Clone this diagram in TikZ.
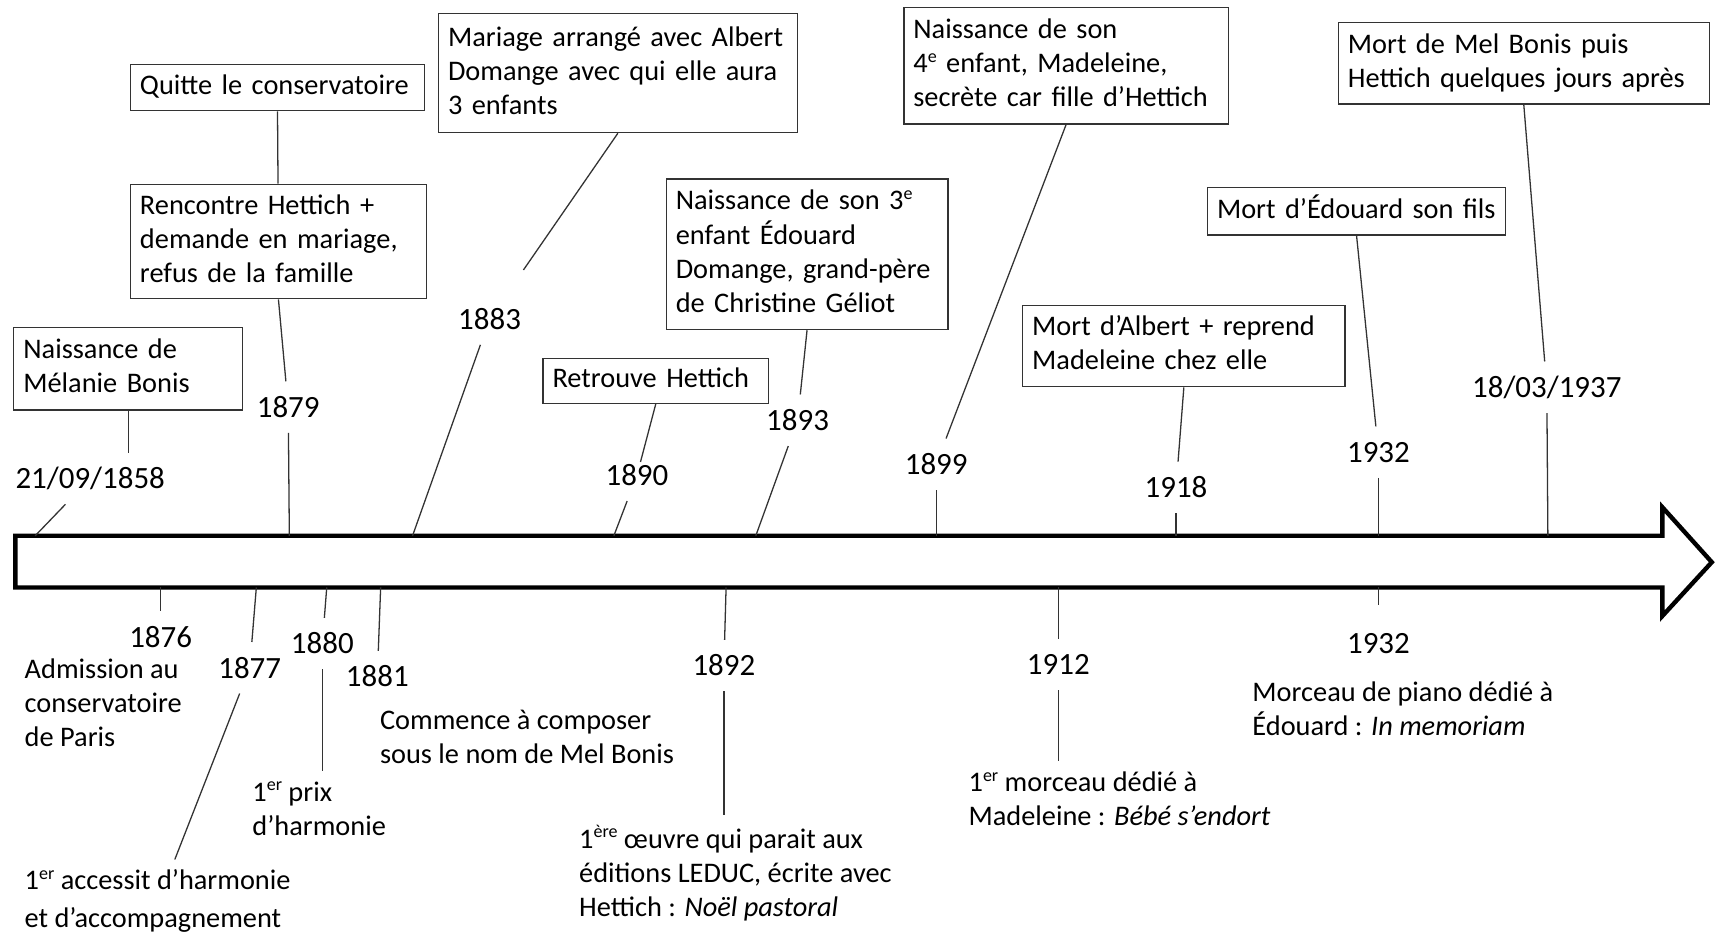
\documentclass[tikz,border=0pt]{standalone}
\usepackage{fontspec}
\setmainfont{Carlito}

\newcommand{\boxfont}{\fontsize{11}{13.2}\selectfont}
\newcommand{\yearfont}{\fontsize{12}{14}\selectfont}
\newcommand{\expo}[1]{\raisebox{0.75ex}{\fontsize{7}{7}\selectfont #1}}

\begin{document}
\begin{tikzpicture}[x=0.15mm, y=-0.15mm,
    eventbox/.style 2 args={draw=black!80, line width=0.5pt, anchor=north west, align=left, inner xsep=1.3mm, inner ysep=0pt, text width=#1, minimum height=#2, font=\boxfont, execute at begin node=\strut, execute at end node=\strut},
    yearnode/.style={font=\yearfont, inner sep=0pt, text height=8pt, text depth=0pt, outer sep=6pt},
    notetext/.style={anchor=north west, align=left, inner sep=0pt, font=\boxfont, execute at begin node=\strut, execute at end node=\strut},
    link/.style={draw=black!80, line width=0.5pt},
    timeline/.style={draw=black, line width=1.7pt, fill=white, line join=miter},]
    \useasboundingbox (0,0) rectangle (1568,850);
    % arrow
    \draw[timeline] (14,487) -- (1511,487) -- (1511,461) -- (1556,511) -- (1511,560) -- (1511,534) -- (14,534) -- cycle;
    % points on the arrow
    \coordinate (a1858) at (32,487);
    \coordinate (a1879) at (263,487);
    \coordinate (a1883) at (375,487);
    \coordinate (a1890) at (558,487);
    \coordinate (a1893) at (687,487);
    \coordinate (a1899) at (851,487);
    \coordinate (a1918) at (1069,487);
    \coordinate (a1932) at (1253,487);
    \coordinate (a1937) at (1407,487);
    \coordinate (b1876) at (146,534);
    \coordinate (b1877) at (233,534);
    \coordinate (b1880) at (297,534);
    \coordinate (b1881) at (346,534);
    \coordinate (b1892) at (660,534);
    \coordinate (b1912) at (962,534);
    \coordinate (b1932) at (1253,534);
    % boxes
    \node[eventbox={28.6mm}{11.25mm}]  (melanie)   at (12,297)   {Naissance de\\Mélanie Bonis};
    \node[eventbox={37.45mm}{6.3mm}]   (quitte)    at (118,58)   {Quitte le conservatoire};
    \node[eventbox={37.75mm}{15.6mm}]  (rencontre) at (118,167)  {Rencontre Hettich +\\demande en mariage,\\refus de la famille};
    \node[eventbox={46.3mm}{16.2mm}]   (mariage)   at (398,12)   {Mariage arrangé avec Albert\\Domange avec qui elle aura\\3 enfants};
    \node[eventbox={28.15mm}{6.15mm}]  (retrouve)  at (493,325)  {Retrouve Hettich};
    \node[eventbox={35.8mm}{20.55mm}]  (enfant3)   at (605,162)  {Naissance de son 3\expo{e}\\enfant Édouard\\Domange, grand-père\\de Christine Géliot};
    \node[eventbox={41.65mm}{15.9mm}]  (enfant4)   at (821,6)    {Naissance de son\\4\expo{e} enfant, Madeleine,\\secrète car fille d’Hettich};
    \node[eventbox={41.35mm}{11.1mm}]  (albert)    at (929,277)  {Mort d’Albert + reprend\\Madeleine chez elle};
    \node[eventbox={38.05mm}{6.45mm}]  (edouard)   at (1097,170) {Mort d’Édouard son fils};
    \node[eventbox={47.95mm}{11.1mm}]  (melbonis)  at (1216,20)  {Mort de Mel Bonis puis\\Hettich quelques jours après};
    % dates
    \node[yearnode] (d1858) at (82,435)   {21/09/1858};
    \node[yearnode] (d1879) at (262,370)  {1879};
    \node[yearnode] (d1883) at (445,290)  {1883};
    \node[yearnode] (d1890) at (579,432)  {1890};
    \node[yearnode] (d1893) at (725,382)  {1893};
    \node[yearnode] (d1899) at (851,422)  {1899};
    \node[yearnode] (d1918) at (1069,443) {1918};
    \node[yearnode] (d1932) at (1253,411) {1932};
    \node[yearnode] (d1937) at (1406,352) {18/03/1937};
    \node[yearnode] (e1876) at (146,579)  {1876};
    \node[yearnode] (e1877) at (227,607)  {1877};
    \node[yearnode] (e1880) at (293,585)  {1880};
    \node[yearnode] (e1881) at (343,615)  {1881};
    \node[yearnode] (e1892) at (658,605)  {1892};
    \node[yearnode] (e1912) at (962,604)  {1912};
    \node[yearnode] (e1932) at (1253,585) {1932};
    % texts below the arrow
    \node[notetext] (n1876) at (22,598)   {Admission au\\conservatoire\\de Paris};
    \node[notetext] (n1877) at (22,790)   {1\expo{er} accessit d’harmonie\\[1.4pt]et d’accompagnement};
    \node[notetext] (n1880) at (229,710)  {1\expo{er} prix\\d’harmonie};
    \node[notetext] (n1881) at (345,645)  {Commence à composer\\sous le nom de Mel Bonis};
    \node[notetext] (n1892) at (526,750)  {1\expo{ère} œuvre qui parait aux\\éditions LEDUC, écrite avec\\Hettich : \textit{Noël pastoral}};
    \node[notetext] (n1912) at (880,701)  {1\expo{er} morceau dédié à\\Madeleine : \textit{Bébé s’endort}};
    \node[notetext] (n1932) at (1138,619) {Morceau de piano dédié à\\Édouard : \textit{In memoriam}};
    % lines above the arrow
    \draw[link] (quitte) -- (rencontre);
    \draw[link] (melanie.south) -- (melanie.south |- d1858.north);
    \draw[link] (d1858) -- (a1858);
    \draw[link] (rencontre.south) -- (d1879);
    \draw[link] (d1879) -- (a1879);
    \draw[link, shorten >=11pt] (mariage.south) -- (d1883);
    \draw[link] (d1883) -- (a1883);
    \draw[link, shorten >=-5pt] (retrouve.south) -- (d1890);
    \draw[link] (d1890) -- (a1890);
    \draw[link] (enfant3.south) -- (d1893);
    \draw[link] (d1893) -- (a1893);
    \draw[link] (enfant4.south) -- (d1899);
    \draw[link] (d1899) -- (a1899);
    \draw[link] (albert.south) -- (d1918);
    \draw[link] (d1918) -- (a1918);
    \draw[link] (edouard.south) -- (d1932);
    \draw[link] (d1932) -- (a1932);
    \draw[link] (melbonis.south) -- (d1937);
    \draw[link] (d1937) -- (a1937);
    % lines below the arrow
    \draw[link] (b1876) -- (e1876);
    \draw[link] (b1877) -- (e1877);
    \draw[link, shorten >=4pt] (e1877) -- (n1877);
    \draw[link] (b1880) -- (e1880);
    \draw[link, shorten >=4pt] (e1880) -- (e1880 |- n1880.north);
    \draw[link] (b1881) -- (e1881);
    \draw[link] (b1892) -- (e1892);
    \draw[link, shorten >=4pt] (e1892) -- (e1892 |- n1892.north);
    \draw[link] (b1912) -- (e1912);
    \draw[link, shorten >=4pt] (e1912) -- (e1912 |- n1912.north);
    \draw[link, shorten >=5pt] (b1932) -- (e1932);
\end{tikzpicture}
\end{document}
